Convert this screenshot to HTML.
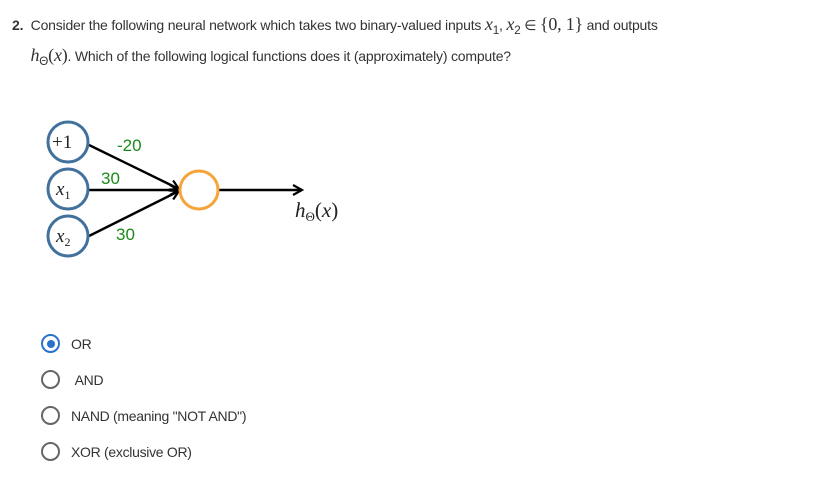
<!DOCTYPE html>
<html><head><meta charset="utf-8"><style>
body{margin:0;width:839px;height:480px;background:#fff;font-family:"Liberation Sans",sans-serif;color:#333;position:relative;overflow:hidden}
.q{position:absolute;left:12px;top:12px;font-size:14px;line-height:24px;width:800px;letter-spacing:-0.2px}
.math{font-family:"Liberation Serif",serif;font-style:italic;font-size:18px}
.opt{position:absolute;left:41px;font-size:14px;color:#333}
.opt .r{position:absolute;left:0;top:-2px;width:19px;height:19px;border:2px solid #666;border-radius:50%;box-sizing:border-box}
.opt .t{position:absolute;left:30px;top:0;white-space:nowrap;letter-spacing:-0.3px}
</style></head><body>
<div class="q"><b>2.</b>&nbsp; Consider the following neural network which takes two binary-valued inputs <span class="math">x</span><sub>1</sub>, <span class="math">x</span><sub>2</sub> ∈ <span style="font-family:'Liberation Serif',serif;font-size:18px">{0, 1}</span> and outputs<br>&nbsp;&nbsp;&nbsp;&nbsp;&nbsp;<span class="math">h</span><sub>Θ</sub><span style="font-family:'Liberation Serif',serif;font-size:18px">(<i>x</i>)</span>. Which of the following logical functions does it (approximately) compute?</div>
<svg width="839" height="480" style="position:absolute;left:0;top:0">
<defs><marker id="ah" markerWidth="12" markerHeight="12" refX="10" refY="6" orient="auto" markerUnits="userSpaceOnUse"><path d="M1,1 L10,6 L1,11" fill="none" stroke="#000" stroke-width="2.2"/></marker></defs>
<g stroke="#000" stroke-width="2.4">
<line x1="89" y1="145" x2="179" y2="189" marker-end="url(#ah)"/>
<line x1="89" y1="190" x2="179" y2="190" marker-end="url(#ah)"/>
<line x1="89" y1="236" x2="179" y2="191" marker-end="url(#ah)"/>
<line x1="219" y1="190" x2="302" y2="190" marker-end="url(#ah)"/>
</g>
<g fill="#fff" stroke="#41719c" stroke-width="3">
<circle cx="68" cy="142" r="20"/>
<circle cx="68" cy="189" r="20"/>
<circle cx="68" cy="236" r="20"/>
</g>
<circle cx="199" cy="190" r="19" fill="#fff" stroke="#f5a53a" stroke-width="3"/>
<g font-family="Liberation Serif,serif" font-size="19" fill="#222">
<text x="52" y="148">+1</text>
<text x="56" y="195" font-style="italic">x<tspan font-size="12" font-style="normal" dy="4">1</tspan></text>
<text x="56" y="242" font-style="italic">x<tspan font-size="12" font-style="normal" dy="4">2</tspan></text>
<text x="295" y="217" font-style="italic" font-size="21">h<tspan font-size="13" font-style="normal" dy="4">Θ</tspan><tspan dy="-4" font-style="normal">(</tspan>x<tspan font-style="normal">)</tspan></text>
</g>
<g font-family="Liberation Sans,sans-serif" font-size="17" fill="#1a8a1a">
<text x="117" y="151">-20</text>
<text x="101" y="184">30</text>
<text x="116" y="240">30</text>
</g>
</svg>
<div class="opt" style="top:336px"><span class="r" style="border-color:#2a73cc"><span style="position:absolute;left:3.5px;top:3.5px;width:8px;height:8px;background:#2a73cc;border-radius:50%"></span></span><span class="t">OR</span></div>
<div class="opt" style="top:372px"><span class="r"></span><span class="t">&nbsp;AND</span></div>
<div class="opt" style="top:408px"><span class="r"></span><span class="t">NAND (meaning "NOT AND")</span></div>
<div class="opt" style="top:444px"><span class="r"></span><span class="t">XOR (exclusive OR)</span></div>
</body></html>
